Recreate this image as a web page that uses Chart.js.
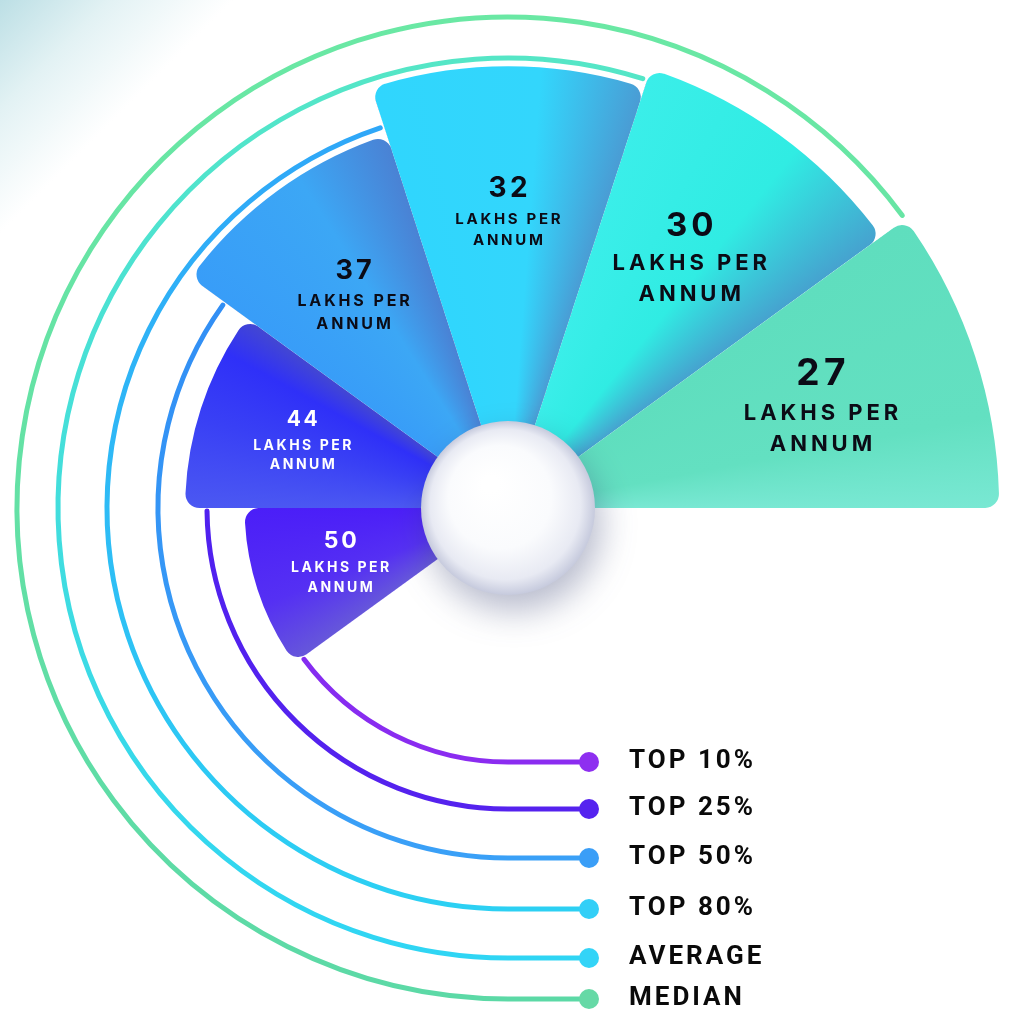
<!DOCTYPE html>
<html>
<head>
<meta charset="utf-8">
<script src="https://cdn.jsdelivr.net/npm/chart.js"></script>
<style>
  body { margin: 0; background: #fff; }
  #wrap {
    position: relative; width: 1023px; height: 1009px; overflow: hidden;
    background: linear-gradient(135deg, #bcdfe5 0px, #e3f2f4 80px, #ffffff 165px);
  }
  #salary { position: absolute; left: 0; top: 0; }
</style>
</head>
<body>
<div id="wrap">
  <canvas id="salary" width="1016" height="1016"></canvas>
</div>
<script>
// salary bands, in lakhs per annum
const categories = ['TOP 10%', 'TOP 25%', 'TOP 50%', 'TOP 80%', 'AVERAGE', 'MEDIAN'];
const salaryLakhs = [50, 44, 37, 32, 30, 27];
const unitLines = ['LAKHS PER', 'ANNUM'];

const SWEEP = 36;        // degrees per slice
const START = 234;       // clockwise from top

// fill stops along each slice (0 = leading edge, 1 = trailing edge)
const sliceStops = [
  [[0, '#6657da'], [0.4, '#5530f3'], [1, '#4b1ef8']],
  [[0, '#4b58f2'], [0.45, '#3940f5'], [0.8, '#2f30f8'], [1, '#4347d2']],
  [[0, '#389df8'], [0.6, '#3ca7f5'], [1, '#4a82d4']],
  [[0, '#30d6fd'], [0.62, '#33d6fc'], [1, '#4a9cd4']],
  [[0, '#3aeee9'], [0.58, '#30ece3'], [1, '#46a2cf']],
  [[0, '#5fdebe'], [0.7, '#63e0c1'], [1, '#79e8d3']]
];

const labelStyle = [
  { num: 23, txt: 14, color: '#ffffff' },
  { num: 21, txt: 14, color: '#ffffff' },
  { num: 27, txt: 16, color: '#0b0b16' },
  { num: 28, txt: 15, color: '#0b0b16' },
  { num: 33, txt: 22, color: '#0b0b16' },
  { num: 37, txt: 22, color: '#0b0b16' }
];

// connector rings: radius, top colour, bottom colour, dot colour
const rings = [
  { r: 254, top: '#6a2df2', bot: '#8b2cf0', dot: '#8e2ff0' },
  { r: 301, top: '#4a1ff0', bot: '#5522ee', dot: '#5523ef' },
  { r: 350, top: '#2f8af4', bot: '#3aa0f7', dot: '#3a9ef7' },
  { r: 401, top: '#2fa6f8', bot: '#2cd0f3', dot: '#33cff7' },
  { r: 450, top: '#55e6c6', bot: '#2fd5f4', dot: '#33d4f7' },
  { r: 491, top: '#6ae8a4', bot: '#5cd9a6', dot: '#66d9a6' }
];

const rad = d => d * Math.PI / 180;

function sliceFill(c) {
  const i = c.dataIndex;
  const stops = sliceStops[i];
  const scale = c.chart.scales.r;
  if (c.type !== 'data' || !scale || scale.xCenter === undefined) return stops[1][1];
  const a0 = scale.getIndexAngle(0) - Math.PI / 2 + i * rad(SWEEP);
  const g = c.chart.ctx.createConicGradient(a0, scale.xCenter, scale.yCenter);
  const span = SWEEP / 360;
  stops.forEach(s => g.addColorStop(s[0] * span, s[1]));
  g.addColorStop(Math.min(1, span + 0.001), stops[stops.length - 1][1]);
  return g;
}

const ringPlugin = {
  id: 'rings',
  beforeDatasetsDraw(chart) {
    const ctx = chart.ctx;
    const scale = chart.scales.r;
    const cx = scale.xCenter, cy = scale.yCenter;
    const arcs = chart.getDatasetMeta(0).data;
    ctx.save();
    ctx.lineWidth = 5;
    ctx.lineCap = 'round';
    rings.forEach((rg, i) => {
      const g = ctx.createLinearGradient(0, cy - rg.r, 0, cy + rg.r);
      g.addColorStop(0, rg.top);
      g.addColorStop(1, rg.bot);
      ctx.strokeStyle = g;
      const a0 = arcs[i].startAngle - 0.01;
      ctx.beginPath();
      ctx.arc(cx, cy, rg.r, a0, Math.PI / 2, true);
      ctx.lineTo(588, cy + rg.r);
      ctx.stroke();
    });
    ctx.restore();
  },
  afterDraw(chart) {
    const ctx = chart.ctx;
    const cy = chart.scales.r.yCenter;
    ctx.save();
    ctx.font = 'bold 26px Roboto, "Liberation Sans", sans-serif';
    ctx.letterSpacing = '3px';
    ctx.textBaseline = 'middle';
    ctx.textAlign = 'left';
    rings.forEach((rg, i) => {
      const y = cy + rg.r;
      ctx.fillStyle = rg.dot;
      ctx.beginPath();
      ctx.arc(589, y, 10, 0, Math.PI * 2);
      ctx.fill();
      ctx.fillStyle = '#0a0a0a';
      ctx.fillText(categories[i], 629, y - 1);
    });
    ctx.restore();
  }
};

const hubPlugin = {
  id: 'hub',
  afterDatasetsDraw(chart) {
    const ctx = chart.ctx;
    const scale = chart.scales.r;
    const cx = scale.xCenter, cy = scale.yCenter, R = 87;
    ctx.save();
    ctx.shadowColor = 'rgba(50, 60, 110, 0.35)';
    ctx.shadowBlur = 34;
    ctx.shadowOffsetX = 6;
    ctx.shadowOffsetY = 16;
    const g = ctx.createRadialGradient(cx - 18, cy - 24, 8, cx, cy, R);
    g.addColorStop(0, '#ffffff');
    g.addColorStop(0.55, '#fafbfd');
    g.addColorStop(0.85, '#e8eaf3');
    g.addColorStop(1, '#c6cadd');
    ctx.fillStyle = g;
    ctx.beginPath();
    ctx.arc(cx, cy, R, 0, Math.PI * 2);
    ctx.fill();
    ctx.restore();

    // slice labels
    const arcs = chart.getDatasetMeta(0).data;
    ctx.save();
    ctx.textAlign = 'center';
    ctx.textBaseline = 'middle';
    arcs.forEach((el, i) => {
      const p = el.getProps(['x', 'y', 'startAngle', 'endAngle', 'outerRadius'], true);
      const mid = (p.startAngle + p.endAngle) / 2;
      const rr = p.outerRadius * 0.67;
      const x = p.x + Math.cos(mid) * rr;
      const y = p.y + Math.sin(mid) * rr;
      const st = labelStyle[i];
      const gap = st.num * 0.55 + st.txt * 0.6 + 6;
      const lh = st.txt * 1.4;
      const top = -st.num * 0.36, bottom = gap + lh + st.txt * 0.36;
      const y0 = y - (top + bottom) / 2;
      ctx.fillStyle = st.color;
      let sp = st.num * 0.12;
      ctx.font = 'bold ' + st.num + 'px Inter, "Open Sans", sans-serif';
      ctx.letterSpacing = sp + 'px';
      ctx.fillText(String(salaryLakhs[i]), x + sp / 2, y0);
      sp = st.txt * 0.18;
      ctx.font = 'bold ' + st.txt + 'px Inter, "Open Sans", sans-serif';
      ctx.letterSpacing = sp + 'px';
      ctx.fillText(unitLines[0], x + sp / 2, y0 + gap);
      ctx.fillText(unitLines[1], x + sp / 2, y0 + gap + lh);
    });
    ctx.restore();
  }
};

new Chart(document.getElementById('salary'), {
  type: 'polarArea',
  data: {
    labels: categories,
    datasets: [{
      data: salaryLakhs,
      angle: SWEEP,
      backgroundColor: sliceFill,
      borderWidth: 0,
      borderRadius: { outerStart: 14, outerEnd: 14, innerStart: 0, innerEnd: 0 }
    }]
  },
  options: {
    responsive: false,
    animation: false,
    events: [],
    layout: { padding: 0 },
    plugins: { legend: { display: false }, tooltip: { enabled: false } },
    scales: {
      r: {
        reverse: true,
        min: 25.3,
        max: 76.6,
        beginAtZero: false,
        startAngle: START,
        ticks: { display: false },
        grid: { display: false },
        angleLines: { display: false },
        pointLabels: { display: false }
      }
    }
  },
  plugins: [ringPlugin, hubPlugin]
});
</script>
</body>
</html>
